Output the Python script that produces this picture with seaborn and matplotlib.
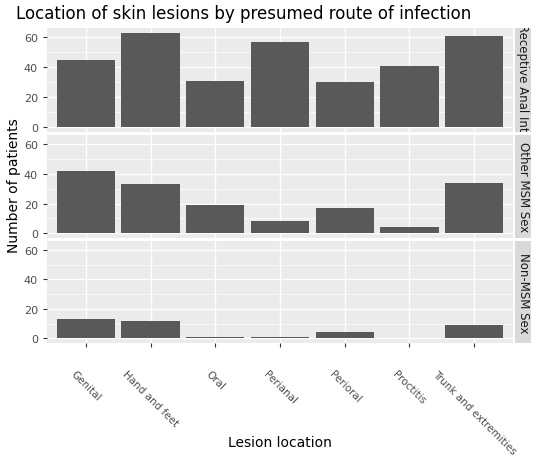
import matplotlib
matplotlib.use("Agg")
import matplotlib.pyplot as plt
import seaborn as sns
import pandas as pd

locations = ["Genital", "Hand and feet", "Oral", "Perianal", "Perioral", "Proctitis", "Trunk and extremities"]
routes = ["Receptive Anal Inte", "Other MSM Sex", "Non-MSM Sex"]
receptive = [45, 63, 31, 57, 30, 41, 61]
other_msm = [42, 33, 19, 8, 17, 4, 34]
non_msm = [13, 12, 1, 1, 4, 0, 9]
values = [receptive, other_msm, non_msm]

W, H = 547, 460
fig = plt.figure(figsize=(W/100, H/100), dpi=100)
fig.patch.set_facecolor("white")
panels = [(29, 133), (136, 239), (242, 344)]
x0, x1 = 47, 513
for i, (route, vals) in enumerate(zip(routes, values)):
    top, bot = panels[i]
    ax = fig.add_axes([x0/W, 1-bot/H, (x1-x0)/W, (bot-top)/H])
    ax.set_facecolor("#EBEBEB")
    df = pd.DataFrame({"loc": locations, "n": vals})
    sns.barplot(data=df, x="loc", y="n", color="#595959", saturation=1, width=0.9, ax=ax)
    ax.set_ylim(-3.15, 66.15)
    ax.set_xlim(-0.6, 6.6)
    ax.set_yticks([0, 20, 40, 60])
    ax.set_yticks([10, 30, 50], minor=True)
    ax.grid(True, which="major", color="white", lw=1.0)
    ax.grid(True, which="minor", axis="y", color="white", lw=0.5)
    ax.set_axisbelow(True)
    for s in ax.spines.values():
        s.set_visible(False)
    ax.tick_params(axis="y", colors="#4D4D4D", labelsize=8, length=3, color="#333333", which="major")
    ax.tick_params(axis="y", which="minor", length=0)
    ax.set_ylabel("")
    ax.set_xlabel("")
    if i < 2:
        ax.tick_params(axis="x", length=0, labelbottom=False)
    else:
        ax.tick_params(axis="x", colors="#4D4D4D", labelsize=7.5, length=3, color="#333333", pad=15)
        plt.setp(ax.get_xticklabels(), rotation=-45, ha="center", va="top")
    sax = fig.add_axes([(x1+2)/W, 1-bot/H, 16/W, (bot-top)/H])
    sax.set_facecolor("#D9D9D9")
    sax.set_xticks([]); sax.set_yticks([])
    for s in sax.spines.values():
        s.set_visible(False)
    sax.text(0.5, 0.5, route, rotation=-90, ha="center", va="center", fontsize=8.5,
             color="#1A1A1A", transform=sax.transAxes, clip_on=True)

fig.text(16/W, 1-14/H, "Location of skin lesions by presumed route of infection", fontsize=12, va="center", ha="left")
fig.text(14/W, 1-186/H, "Number of patients", rotation=90, fontsize=10, va="center", ha="center")
fig.text(280/W, 1-443/H, "Lesion location", fontsize=10, va="center", ha="center")
fig.savefig("out.png", dpi=100)
